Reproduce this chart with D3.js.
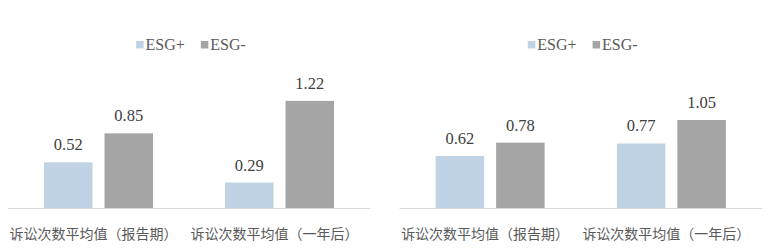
<!DOCTYPE html>
<html><head><meta charset="utf-8">
<script src="https://cdn.jsdelivr.net/npm/d3@7"></script>
<style>body{margin:0;background:#fff;}svg{display:block;}</style>
</head><body>
<script>
const categories = ["诉讼次数平均值（报告期）", "诉讼次数平均值（一年后）"];
const seriesNames = ["ESG+", "ESG-"];
const leftValues = { "ESG+": [0.52, 0.29], "ESG-": [0.85, 1.22] };
const rightValues = { "ESG+": [0.62, 0.77], "ESG-": [0.78, 1.05] };
const colors = { "ESG+": "#bfd3e5", "ESG-": "#a5a5a5" };

const W = 776, H = 248;
const svg = d3.select("body").append("svg").attr("width", W).attr("height", H);

function drawChart(vals, x0, x1, yMax, yTop) {
  const g = svg.append("g");
  const baseY = 208;
  const x = d3.scaleBand().domain(categories).range([x0, x1]).paddingInner(0).paddingOuter(0);
  const y = d3.scaleLinear().domain([0, yMax]).range([baseY, yTop]);
  const barW = 48.5, gap = 12;
  const inner = d3.scaleOrdinal().domain(seriesNames).range([-(gap/2 + barW), gap/2]);

  categories.forEach((c, i) => {
    const cx = x(c) + x.bandwidth() / 2;
    seriesNames.forEach(s => {
      const v = vals[s][i];
      const bx = cx + inner(s);
      g.append("rect").attr("x", bx).attr("y", y(v)).attr("width", barW)
        .attr("height", baseY - y(v)).attr("fill", colors[s]);
      g.append("text").attr("x", bx + barW / 2).attr("y", y(v) - 12)
        .attr("text-anchor", "middle").attr("font-family", "'Liberation Serif', 'Times New Roman', serif")
        .attr("font-size", 16.5).attr("fill", "#404040").text(v.toFixed(2));
    });
    g.append("text").attr("x", cx - 5).attr("y", 238.5)
      .attr("text-anchor", "middle").attr("font-family", "'Noto Sans CJK SC', sans-serif")
      .attr("font-size", 14).attr("fill", "#595959").text(c);
  });

  g.append("line").attr("x1", x0).attr("x2", x1).attr("y1", baseY + 0.5).attr("y2", baseY + 0.5)
    .attr("stroke", "#d9d9d9").attr("stroke-width", 1);

  // legend
  const cxl = (x0 + x1) / 2;
  const leg = g.append("g");
  let lx = 0;
  seriesNames.forEach((s, k) => {
    const item = leg.append("g").attr("transform", `translate(${lx},0)`);
    item.append("rect").attr("x", 0).attr("y", 41).attr("width", 7.5).attr("height", 7.5).attr("fill", colors[s]);
    const t = item.append("text").attr("x", 9.5).attr("y", 50)
      .attr("font-family", "'Liberation Serif', 'Times New Roman', serif")
      .attr("font-size", 16).attr("fill", "#595959").text(s);
    lx += 9.5 + t.node().getComputedTextLength() + 16;
  });
  const bb = leg.node().getBBox();
  leg.attr("transform", `translate(${cxl - bb.width / 2 + 2},0)`);
}

drawChart(leftValues, 8, 370, 1.4, 208 - 1.4 * 87.8);
drawChart(rightValues, 399.5, 762, 1.2, 208 - 1.2 * 83.8);
</script>
</body></html>
